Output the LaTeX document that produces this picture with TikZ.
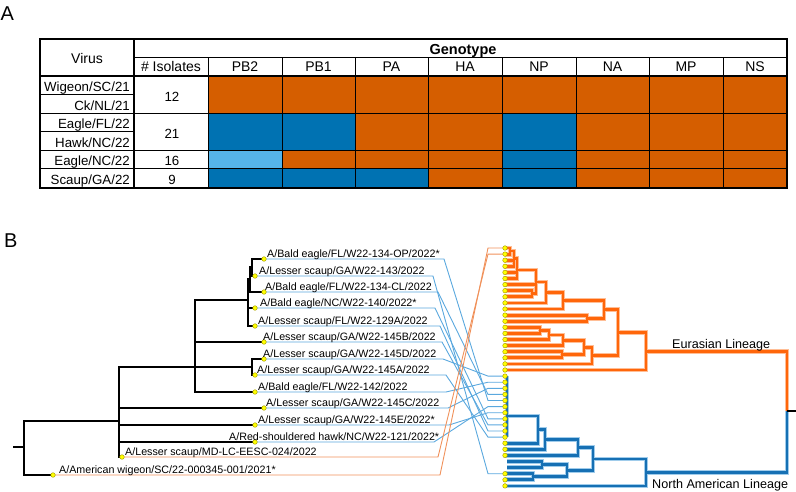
\documentclass[tikz,border=0pt]{standalone}
\usepackage{fontspec}
\setmainfont{Liberation Sans}
\definecolor{cO}{RGB}{213,94,0}
\definecolor{cB}{RGB}{0,114,178}
\definecolor{cLB}{RGB}{86,180,233}
\definecolor{oCore}{RGB}{255,102,10}
\definecolor{oHalo}{RGB}{255,190,150}
\definecolor{bCore}{RGB}{22,112,180}
\definecolor{bHalo}{RGB}{160,204,235}
\definecolor{connB}{RGB}{90,168,222}
\definecolor{connO}{RGB}{240,145,90}
\definecolor{dotY}{RGB}{255,255,0}
\definecolor{dotE}{RGB}{160,150,0}
\newcommand\brk[5]{\draw[tr] (#1,#2) -| (#3,#5) -- (#4,#5);}
\newcommand\tconn[4]{\draw[#1] (#2) -- (#3,0 |- #2) -- (488,0 |- #4) -- (#4);}
\newcommand\orangetree{%
  \brk{505}{248}{510}{505}{254.1}
  \brk{510}{251.05}{514}{505}{266.3}
  \draw[tr] (505,260.2) -- (514,260.2);
  \brk{514}{258.7}{517}{505}{278.5}
  \draw[tr] (505,272.4) -- (517,272.4);
  \brk{505}{290.7}{532}{505}{296.8}
  \brk{517}{270}{536}{532}{293.75}
  \draw[tr] (505,284.6) -- (536,284.6);
  \brk{536}{282}{546}{505}{302.9}
  \brk{546}{292.5}{563}{505}{309}
  \brk{505}{315.1}{587}{505}{321.2}
  \brk{563}{300.7}{604}{587}{318.15}
  \brk{505}{327.3}{540}{505}{333.4}
  \brk{540}{330.35}{549}{505}{339.5}
  \brk{549}{334.9}{563}{505}{345.6}
  \brk{505}{351.7}{562}{505}{357.8}
  \brk{563}{340.25}{584}{562}{354.75}
  \brk{584}{347.5}{592}{505}{363.9}
  \brk{604}{309.4}{618}{592}{355.7}
  \brk{618}{332.55}{646}{505}{370}
  \draw[tr] (646,351.3) -| (787,411);
}
\newcommand\bluetree{%
  \draw[tr] (507,376.1) -- (507,437.1);
  \brk{507}{416}{538}{505}{443.2}
  \brk{538}{429.6}{545}{505}{449.3}
  \brk{545}{439.45}{578}{505}{455.4}
  \brk{507}{461.5}{542}{507}{467.6}
  \brk{505}{473.7}{533}{505}{479.8}
  \brk{542}{464.55}{567}{533}{476.75}
  \brk{578}{447.4}{593}{567}{470.65}
  \brk{593}{459}{646}{505}{485.9}
  \draw[tr] (646,472.45) -| (787,411);
}
\begin{document}
\begin{tikzpicture}[x=1pt,y=-1pt,
  tbl/.style={font=\fontsize{13.3}{15}\selectfont, inner sep=0pt},
  hdr/.style={font=\fontsize{14}{16}\selectfont, inner sep=0pt, anchor=base},
  lbl/.style={font=\fontsize{10.7}{12}\selectfont, inner sep=0pt, anchor=base west},
  panel/.style={font=\fontsize{20}{22}\selectfont, inner sep=0pt, anchor=base west},
  lin/.style={font=\fontsize{12.6}{14}\selectfont, inner sep=0pt, anchor=base west},
  ltree/.style={line width=2.8pt, black},
  dot/.style={circle, fill=dotY, draw=dotE, line width=0.4pt, inner sep=0pt, minimum size=4.6pt},
  cb/.style={draw=connB, line width=0.9pt},
  co/.style={draw=connO, line width=0.9pt},
  grid/.style={line width=0.9pt, black},
  tr/.style={draw=oCore, line width=3pt}
]
\useasboundingbox (0,0) rectangle (796,491);

% ---------------- Panel A ----------------
\node[panel] (pA) at (0.5,20.3) {A};

% coloured cells
\fill[cO] (208,76) rectangle (787,113);
\fill[cB] (208,113) rectangle (355,150);
\fill[cO] (355,113) rectangle (502,150);
\fill[cB] (502,113) rectangle (576,150);
\fill[cO] (576,113) rectangle (787,150);
\fill[cLB] (208,150) rectangle (282,168);
\fill[cO] (282,150) rectangle (502,168);
\fill[cB] (502,150) rectangle (576,168);
\fill[cO] (576,150) rectangle (787,168);
\fill[cB] (208,168) rectangle (428,188);
\fill[cO] (428,168) rectangle (502,188);
\fill[cB] (502,168) rectangle (576,188);
\fill[cO] (576,168) rectangle (787,188);

% grid
\draw[grid] (134,57) -- (787,57);
\foreach \x in {208,282,355,428,502,576,649,723} \draw[grid] (\x,57) -- (\x,188);
\foreach \y in {113,150,168} \draw[grid] (40,\y) -- (787,\y);
\draw[grid] (40,94) -- (134,94);
\draw[grid] (40,131) -- (134,131);
\draw[line width=1.8pt] (40,76) -- (787,76);
\draw[line width=1.8pt] (134,39) -- (134,188);
\draw[line width=2.2pt] (40,39) rectangle (787,188);

% header texts
\node[hdr] (hvirus) at (87,63) {Virus};
\node[hdr, font=\fontsize{14.5}{16}\selectfont\bfseries] (hgeno) at (463,54.5) {Genotype};
\node[hdr] (hiso) at (171,71.7) {\# Isolates};
\node[hdr] (hPBtwo) at (245,71.7) {PB2};
\node[hdr] (hPBone) at (318.5,71.7) {PB1};
\node[hdr] (hPA) at (391.5,71.7) {PA};
\node[hdr] (hHA) at (465,71.7) {HA};
\node[hdr] (hNP) at (539,71.7) {NP};
\node[hdr] (hNA) at (612.5,71.7) {NA};
\node[hdr] (hMP) at (686,71.7) {MP};
\node[hdr] (hNS) at (755,71.7) {NS};

% row labels
\node[tbl, anchor=base east] (r1) at (130,91.8) {Wigeon/SC/21};
\node[tbl, anchor=base east] (r2) at (130,110.6) {Ck/NL/21};
\node[tbl, anchor=base east] (r3) at (130,128.8) {Eagle/FL/22};
\node[tbl, anchor=base east] (r4) at (130,147.3) {Hawk/NC/22};
\node[tbl, anchor=base east] (r5) at (130,165.6) {Eagle/NC/22};
\node[tbl, anchor=base east] (r6) at (130,184.6) {Scaup/GA/22};
\node[tbl, anchor=base] (n1) at (172,101.3) {12};
\node[tbl, anchor=base] (n2) at (172,138) {21};
\node[tbl, anchor=base] (n3) at (172,165.6) {16};
\node[tbl, anchor=base] (n4) at (172,184.6) {9};

% ---------------- Panel B ----------------
\node[panel] (pB) at (4,247.5) {B};

% left tips
\coordinate (L1) at (264,259);
\coordinate (L2) at (255,276);
\coordinate (L3) at (264,292);
\coordinate (L4) at (255,308);
\coordinate (L5) at (255,326);
\coordinate (L6) at (264,342);
\coordinate (L7) at (264,359);
\coordinate (L8) at (255,375);
\coordinate (L9) at (255,392);
\coordinate (L10) at (264,408);
\coordinate (L11) at (255,425);
\coordinate (L12) at (255,442);
\coordinate (L13) at (122,457);
\coordinate (L14) at (53,475);

% right tips
\foreach \k/\y in {0/248,1/254.1,2/260.2,3/266.3,4/272.4,5/278.5,6/284.6,7/290.7,8/296.8,9/302.9,
  10/309,11/315.1,12/321.2,13/327.3,14/333.4,15/339.5,16/345.6,17/351.7,18/357.8,19/363.9,
  20/370,21/376.1,22/382.2,23/388.3,24/394.4,25/400.5,26/406.6,27/412.7,28/418.8,29/424.9,
  30/431,31/437.1,32/443.2,33/449.3,34/455.4,35/461.5,36/467.6,37/473.7,38/479.8,39/485.9}
  {\coordinate (R\k) at (505,\y);}

% tanglegram connectors
\tconn{cb}{L1}{444}{R25}
\tconn{cb}{L2}{433}{R37}
\tconn{cb}{L3}{438}{R24}
\tconn{cb}{L4}{435}{R28}
\tconn{cb}{L5}{440}{R30}
\tconn{cb}{L6}{442}{R29}
\tconn{cb}{L7}{443}{R21}
\tconn{cb}{L8}{446}{R31}
\tconn{cb}{L9}{446}{R22}
\tconn{cb}{L10}{448}{R23}
\tconn{cb}{L11}{449}{R27}
\tconn{cb}{L12}{434}{R26}
\tconn{co}{L13}{438}{R1}
\tconn{co}{L14}{440}{R0}

% left tree
\draw[ltree] (L1) -| (252,276) -- (L2);
\draw[ltree] (252,267.5) -| (250,292) -- (L3);
\draw[ltree] (250,279.75) -| (248,326) -- (L5);
\draw[ltree] (248,308) -- (L4);
\draw[ltree] (L7) -| (252,375) -- (L8);
\draw[ltree] (248,300) -| (195,392) -- (L9);
\draw[ltree] (195,342) -- (L6);
\draw[ltree] (195,367) -- (252,367);
\draw[ltree] (195,367) -| (119,457) -- (L13);
\draw[ltree] (119,408) -- (L10);
\draw[ltree] (119,425) -- (L11);
\draw[ltree] (119,442) -- (L12);
\draw[ltree] (119,421) -| (24,475) -- (L14);
\draw[ltree] (13,447) -- (24,447);

% right tree (halo, then core)
\tikzset{tr/.style={draw=oHalo, line width=4.8pt}}
\orangetree
\tikzset{tr/.style={draw=bHalo, line width=4.8pt}}
\bluetree
\tikzset{tr/.style={draw=oCore, line width=2.8pt}}
\orangetree
\tikzset{tr/.style={draw=bCore, line width=2.8pt}}
\bluetree
\draw[black, line width=1.8pt] (787,411) -- (796,411);

% dots
\foreach \i in {1,...,14} \node[dot] (dl\i) at (L\i) {};
\foreach \k in {0,...,34,37,38,39} \node[dot] (dr\k) at (R\k) {};

% labels
\node[lbl] (T1) at (267,257.5) {A/Bald eagle/FL/W22-134-OP/2022*};
\node[lbl] (T2) at (259,274.5) {A/Lesser scaup/GA/W22-143/2022};
\node[lbl] (T3) at (265,290.5) {A/Bald eagle/FL/W22-134-CL/2022};
\node[lbl] (T4) at (260,306.5) {A/Bald eagle/NC/W22-140/2022*};
\node[lbl] (T5) at (258,324.5) {A/Lesser scaup/FL/W22-129A/2022};
\node[lbl] (T6) at (263,340.5) {A/Lesser scaup/GA/W22-145B/2022};
\node[lbl] (T7) at (263,357.5) {A/Lesser scaup/GA/W22-145D/2022};
\node[lbl] (T8) at (257,373.5) {A/Lesser scaup/GA/W22-145A/2022};
\node[lbl] (T9) at (258,390.5) {A/Bald eagle/FL/W22-142/2022};
\node[lbl] (T10) at (266,406.5) {A/Lesser scaup/GA/W22-145C/2022};
\node[lbl] (T11) at (258,423.5) {A/Lesser scaup/GA/W22-145E/2022*};
\node[lbl] (T12) at (229,440.5) {A/Red-shouldered hawk/NC/W22-121/2022*};
\node[lbl] (T13) at (125,455.5) {A/Lesser scaup/MD-LC-EESC-024/2022};
\node[lbl] (T14) at (59,473.5) {A/American wigeon/SC/22-000345-001/2021*};

\node[lin] (eur) at (672,348.3) {Eurasian Lineage};
\node[lin] (nam) at (652,488.3) {North American Lineage};
\end{tikzpicture}
\end{document}
